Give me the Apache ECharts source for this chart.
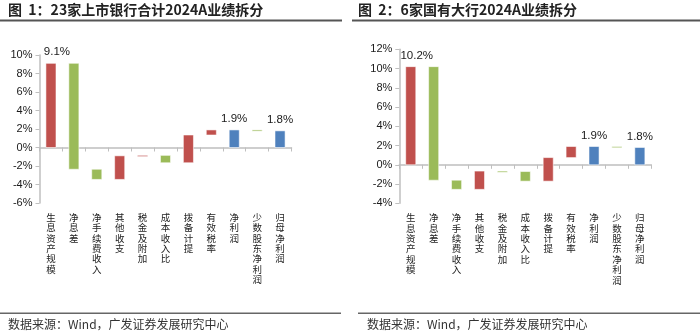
<!DOCTYPE html>
<html><head><meta charset="utf-8">
<script src="https://cdn.jsdelivr.net/npm/echarts@6/dist/echarts.min.js"></script>
<style>html,body{margin:0;padding:0;background:#fff}#c{width:700px;height:333px}</style>
</head><body><div id="c"></div>
<script>
const categories = ['生息资产规模','净息差','净手续费收入','其他收支','税金及附加','成本收入比','拨备计提','有效税率','净利润','少数股东净利润','归母净利润'];
// kind: 'd' = change step, 't' = total bar from zero
const kinds = ['d','d','d','d','d','d','d','d','t','d','t'];
const changes1 = [9.1, -11.45, -1.1, 2.55, 0.05, -0.8, 3.0, 0.55, 1.9, -0.1, 1.8];
const changes2 = [10.2, -11.8, -0.95, 1.9, -0.05, -1.0, 2.45, 1.15, 1.9, -0.1, 1.8];
const labelIdx = [0, 8, 10];
const yTicks1 = {min: -6, max: 10, interval: 2};
const yTicks2 = {min: -4, max: 12, interval: 2};
const title1 = '图  1：23家上市银行合计2024A业绩拆分';
const title2 = '图  2：6家国有大行2024A业绩拆分';
const source = '数据来源：Wind，广发证券发展研究中心';

const RED = '#C0504D', GREEN = '#9BBB59', BLUE = '#4F81BD';

function build(changes) {
  let cur = 0; const out = [];
  changes.forEach((v, i) => {
    let s, e, c;
    if (kinds[i] === 't') { s = 0; e = v; cur = v; c = 2; }
    else { s = cur; e = cur + v; cur = e; c = v >= 0 ? 0 : 1; }
    out.push([i, s, e, c, v]);
  });
  return out;
}

function renderItem(params, api) {
  const i = api.value(0), s = api.value(1), e = api.value(2), c = api.value(3), v = api.value(4);
  const p1 = api.coord([i, s]), p2 = api.coord([i, e]);
  const w = api.size([1, 0])[0] * 0.44;
  const top = Math.min(p1[1], p2[1]);
  let h = Math.abs(p2[1] - p1[1]);
  if (h < 1.2) h = 1.2;
  const fill = [RED, GREEN, BLUE][c];
  const children = [{
    type: 'rect',
    shape: {x: p1[0] - w / 2, y: top, width: w, height: h},
    style: {fill: fill, stroke: 'rgba(255,255,255,0.55)', lineWidth: 1}
  }];
  if (labelIdx.indexOf(i) >= 0) {
    children.push({
      type: 'text',
      x: p1[0] + (i === 0 ? 6 : 0), y: top - 5,
      style: {text: v.toFixed(1) + '%', fill: '#1a1a1a', font: '11.5px "Liberation Sans", Arial, sans-serif', align: 'center', verticalAlign: 'bottom'}
    });
  }
  return {type: 'group', children: children};
}

function xAxis(gi, margin) {
  return {
    type: 'category', gridIndex: gi, data: categories,
    axisLine: {onZero: true, lineStyle: {color: '#BFBFBF', width: 1.5}},
    axisTick: {show: true, length: 4, lineStyle: {color: '#BFBFBF'}},
    axisLabel: {
      margin: margin, interval: 0, fontSize: 9.5, lineHeight: 10.4, color: '#222',
      fontFamily: '"Noto Sans CJK SC", sans-serif', verticalAlign: 'top',
      formatter: v => v.split('').join('\n')
    }
  };
}
function yAxis(gi, t) {
  return {
    type: 'value', gridIndex: gi, min: t.min, max: t.max, interval: t.interval,
    splitLine: {show: false},
    axisLine: {show: true, lineStyle: {color: '#BFBFBF', width: 1.5}},
    axisTick: {show: true, length: 4, lineStyle: {color: '#BFBFBF'}},
    axisLabel: {formatter: v => v + '%', fontSize: 11, color: '#1a1a1a', margin: 7, fontFamily: '"Liberation Sans", Arial, sans-serif'}
  };
}

const chart = echarts.init(document.getElementById('c'), null, {renderer: 'canvas'});
chart.setOption({
  animation: false,
  grid: [
    {left: 39.5, top: 55, width: 252, height: 148, outerBoundsMode: 'none', containLabel: false},
    {left: 399.3, top: 49.3, width: 252, height: 154, outerBoundsMode: 'none', containLabel: false}
  ],
  xAxis: [xAxis(0, 9), xAxis(1, 9)],
  yAxis: [yAxis(0, yTicks1), yAxis(1, yTicks2)],
  series: [
    {type: 'custom', xAxisIndex: 0, yAxisIndex: 0, renderItem: renderItem, data: build(changes1), encode: {x: 0, y: [1, 2]}},
    {type: 'custom', xAxisIndex: 1, yAxisIndex: 1, renderItem: renderItem, data: build(changes2), encode: {x: 0, y: [1, 2]}}
  ],
  graphic: [
    {type: 'text', left: 8, top: 3, style: {text: title1, fill: '#222', font: 'bold 14px "Noto Sans CJK SC", sans-serif'}},
    {type: 'text', left: 358, top: 3, style: {text: title2, fill: '#222', font: 'bold 14px "Noto Sans CJK SC", sans-serif'}},
    {type: 'rect', shape: {x: 0, y: 19.5, width: 342, height: 2}, style: {fill: '#555'}},
    {type: 'rect', shape: {x: 352, y: 19.5, width: 348, height: 2}, style: {fill: '#555'}},
    {type: 'rect', shape: {x: 0, y: 312.5, width: 341, height: 1.5}, style: {fill: '#666'}},
    {type: 'rect', shape: {x: 358, y: 312.5, width: 342, height: 1.5}, style: {fill: '#666'}},
    {type: 'text', left: 8, top: 318, style: {text: source, fill: '#333', font: '12px "Noto Sans CJK SC", sans-serif'}},
    {type: 'text', left: 367, top: 318, style: {text: source, fill: '#333', font: '12px "Noto Sans CJK SC", sans-serif'}}
  ]
});
</script></body></html>
